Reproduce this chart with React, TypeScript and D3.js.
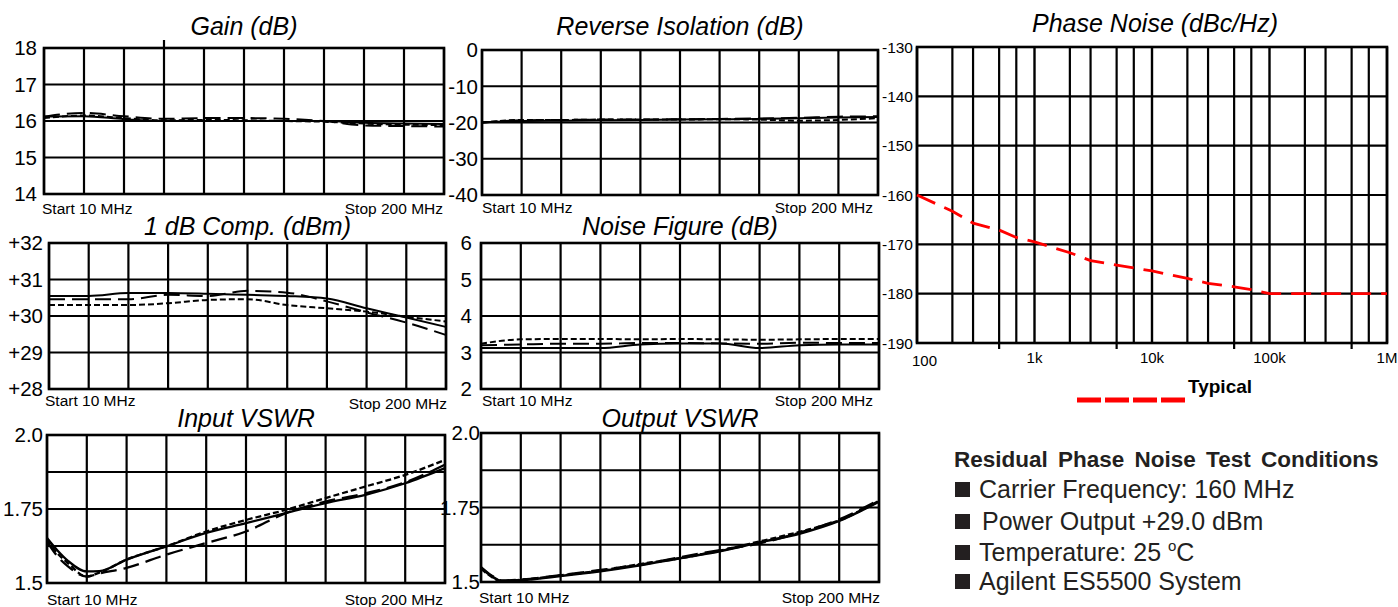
import React from 'react';
import * as d3 from 'd3';

// sweep points (MHz), 10 divisions from start to stop
const sweepMHz = [10, 29, 48, 67, 86, 105, 124, 143, 162, 181, 200];
const vswrInMHz = [10, 15, 20, 29, 35, 48, 67, 86, 105, 124, 143, 162, 181, 200];
const vswrOutMHz = [10, 15, 20, 29, 48, 67, 86, 105, 124, 143, 162, 181, 200];

const gainSolid = [16.12, 16.13, 16.05, 16.0, 16.0, 16.0, 16.0, 16.0, 15.95, 15.93, 15.92];
const gainLong = [16.12, 16.22, 16.13, 16.06, 16.08, 16.08, 16.06, 16.0, 15.88, 15.86, 15.85];
const gainShort = [16.08, 16.15, 16.08, 16.02, 16.03, 16.02, 16.0, 15.98, 15.93, 15.9, 15.89];

const isoSolid = [-20, -19.6, -19.5, -19.4, -19.3, -19.2, -19.1, -19.0, -18.8, -18.6, -18.5];
const isoLong = [-20, -19.4, -19.3, -19.2, -19.2, -19.1, -19.0, -18.9, -18.7, -18.4, -18.3];
const isoShort = [-20, -19.3, -19.3, -19.2, -19.2, -19.2, -19.1, -19.2, -19.5, -19.3, -18.8];

const compSolid = [30.55, 30.55, 30.63, 30.63, 30.61, 30.58, 30.55, 30.48, 30.21, 29.96, 29.7];
const compLong = [30.46, 30.46, 30.46, 30.58, 30.55, 30.69, 30.64, 30.4, 30.1, 29.82, 29.48];
const compShort = [30.3, 30.3, 30.3, 30.35, 30.44, 30.46, 30.3, 30.21, 30.12, 29.98, 29.85];

const nfSolid = [3.12, 3.12, 3.12, 3.12, 3.22, 3.25, 3.25, 3.12, 3.2, 3.22, 3.22];
const nfLong = [3.2, 3.22, 3.24, 3.24, 3.26, 3.26, 3.25, 3.24, 3.27, 3.26, 3.26];
const nfShort = [3.24, 3.36, 3.37, 3.37, 3.36, 3.37, 3.36, 3.35, 3.36, 3.37, 3.37];

const inVswrSolid = [1.652, 1.61, 1.575, 1.539, 1.54, 1.579, 1.624, 1.669, 1.702, 1.736, 1.77, 1.798, 1.837, 1.888];
const inVswrLong = [1.64, 1.59, 1.556, 1.522, 1.532, 1.551, 1.596, 1.635, 1.674, 1.736, 1.775, 1.803, 1.84, 1.9];
const inVswrShort = [1.646, 1.6, 1.567, 1.522, 1.535, 1.579, 1.624, 1.674, 1.713, 1.747, 1.787, 1.826, 1.865, 1.916];

const outVswrSolid = [1.547, 1.52, 1.503, 1.506, 1.52, 1.536, 1.556, 1.58, 1.603, 1.633, 1.662, 1.705, 1.77];
const outVswrLong = [1.55, 1.522, 1.505, 1.508, 1.523, 1.54, 1.558, 1.583, 1.607, 1.63, 1.665, 1.71, 1.775];
const outVswrShort = [1.545, 1.518, 1.502, 1.507, 1.522, 1.538, 1.56, 1.58, 1.605, 1.636, 1.668, 1.707, 1.772];

// phase noise, offset frequency (Hz) vs dBc/Hz
const pnOffsetHz = [100, 200, 300, 500, 700, 1e3, 2e3, 3e3, 5e3, 7e3, 1e4, 2e4, 3e4, 5e4, 7e4, 1e5, 1e6];
const pnTypical = [-160, -163.3, -165.7, -167.1, -168.6, -169.5, -171.7, -173.3, -174.2, -174.8, -175.4, -176.9, -177.9, -178.6, -179.2, -180, -180];
const pnDecades = [100, 1e3, 1e4, 1e5, 1e6];
const pnDecadeLabels = ['100', '1k', '10k', '100k', '1M'];
const pnMinorSteps = [2, 3, 5, 7];
const pnYTicks = [-130, -140, -150, -160, -170, -180, -190];

const testConditions = [
  'Carrier Frequency: 160 MHz',
  'Power Output +29.0 dBm',
  'Temperature: 25 ',
  'Agilent ES5500 System',
];

const FONT = '"Liberation Sans", Arial, Helvetica, sans-serif';
const DASH: Record<string, string> = { solid: 'none', long: '16,7', short: '6,3' };

type Box = { x0: number; x1: number; y0: number; y1: number };

interface PanelProps {
  box: Box;
  title: string;
  titleY: number;
  yDomain: [number, number];
  yGrid: number[];
  yLabels: [number, string][];
  labelGap: number;
  freq: number[];
  traces: { values: number[]; style: string }[];
  startY: number;
  stopY?: number;
  startDx?: number;
  stopDx?: number;
  strayIndex?: number;
  lineWidth?: number;
}

const SweepPanel: React.FC<PanelProps> = ({
  box, title, titleY, yDomain, yGrid, yLabels, labelGap, freq, traces,
  startY, stopY, startDx = 0, stopDx = 0, strayIndex, lineWidth = 2,
}) => {
  const x = d3.scaleLinear().domain([10, 200]).range([box.x0, box.x1]);
  const y = d3.scaleLinear().domain(yDomain).range([box.y1, box.y0]);
  const line = d3
    .line<number>()
    .x((_d, i) => x(freq[i]))
    .y(d => y(d))
    .curve(d3.curveMonotoneX);

  return (
    <g>
      <text x={(box.x0 + box.x1) / 2} y={titleY} textAnchor="middle" fontStyle="italic" fontSize={25}>
        {title}
      </text>
      {sweepMHz.map((f, i) => (
        <line
          key={'v' + i}
          x1={x(f)}
          x2={x(f)}
          y1={i === strayIndex ? box.y0 - 8 : box.y0}
          y2={box.y1}
          stroke="#000"
          strokeWidth={2.2}
        />
      ))}
      {yGrid.map((v, i) => (
        <line key={'h' + i} x1={box.x0} x2={box.x1} y1={y(v)} y2={y(v)} stroke="#000" strokeWidth={2.2} />
      ))}
      {traces.map((t, i) => (
        <path
          key={'t' + i}
          d={line(t.values) || ''}
          fill="none"
          stroke="#000"
          strokeWidth={lineWidth}
          strokeDasharray={DASH[t.style]}
        />
      ))}
      <rect x={box.x0} y={box.y0} width={box.x1 - box.x0} height={box.y1 - box.y0} fill="none" stroke="#000" strokeWidth={2.6} />
      {yLabels.map(([v, s]) => (
        <text key={s} x={box.x0 - labelGap} y={y(v)} dy="0.36em" textAnchor="end" fontSize={20.5}>
          {s}
        </text>
      ))}
      <text x={box.x0 + startDx} y={startY} fontSize={15.5}>Start 10 MHz</text>
      <text x={box.x1 + stopDx} y={stopY ?? startY} textAnchor="end" fontSize={15.5}>Stop 200 MHz</text>
    </g>
  );
};

const PhaseNoise: React.FC = () => {
  const box = { x0: 917, x1: 1387, y0: 47, y1: 343 };
  const x = d3.scaleLog().domain([100, 1e6]).range([box.x0, box.x1]);
  const y = d3.scaleLinear().domain([-190, -130]).range([box.y1, box.y0]);
  const minors = pnDecades.slice(0, -1).flatMap(d => pnMinorSteps.map(m => ({ f: d * m, m })));
  const line = d3
    .line<number>()
    .x((_d, i) => x(pnOffsetHz[i]))
    .y(d => y(d));

  return (
    <g>
      <text x={1155} y={32} textAnchor="middle" fontStyle="italic" fontSize={25}>
        Phase Noise (dBc/Hz)
      </text>
      {pnDecades.map(f => (
        <line key={'d' + f} x1={x(f)} x2={x(f)} y1={box.y0} y2={box.y1} stroke="#000" strokeWidth={2.4} />
      ))}
      {minors.map(({ f, m }) => (
        <line key={'m' + f} x1={x(f)} x2={x(f)} y1={box.y0} y2={box.y1 + (m === 5 ? 6 : 0)} stroke="#000" strokeWidth={2.2} />
      ))}
      {pnYTicks.map(v => (
        <line key={'h' + v} x1={box.x0} x2={box.x1} y1={y(v)} y2={y(v)} stroke="#000" strokeWidth={2.2} />
      ))}
      <rect x={box.x0} y={box.y0} width={box.x1 - box.x0} height={box.y1 - box.y0} fill="none" stroke="#000" strokeWidth={2.6} />
      <path
        d={line(pnTypical) || ''}
        fill="none"
        stroke="#ff0000"
        strokeWidth={2.8}
        strokeDasharray="20,10"
      />
      {pnYTicks.map(v => (
        <text key={'yl' + v} x={box.x0 - 4} y={y(v)} dy="0.36em" textAnchor="end" fontSize={15.5}>
          {v}
        </text>
      ))}
      {pnDecades.map((f, i) => (
        <text
          key={'xl' + f}
          x={i === 0 ? box.x0 - 5 : x(f)}
          y={i === 0 ? 366 : 363}
          textAnchor={i === 0 ? 'start' : 'middle'}
          fontSize={15}
        >
          {pnDecadeLabels[i]}
        </text>
      ))}
      <line x1={1077} x2={1187} y1={400} y2={400} stroke="#ff0000" strokeWidth={5} strokeDasharray="24,4" />
      <text x={1188} y={393} fontWeight="bold" fontSize={19}>Typical</text>
    </g>
  );
};

const Conditions: React.FC = () => {
  const baselines = [498, 530, 561, 590];
  return (
    <g fill="#231f20">
      <text x={954} y={467} fontWeight="bold" fontSize={22.5} wordSpacing={4}>
        Residual Phase Noise Test Conditions
      </text>
      {testConditions.map((t, i) => (
        <g key={t}>
          <rect x={955} y={baselines[i] - 16} width={15} height={15} />
          <text x={i === 1 ? 982 : 979} y={baselines[i]} fontSize={25}>
            {t}
            {i === 2 && (
              <>
                <tspan fontSize={15} dy={-10}>o</tspan>
                <tspan dy={10}>C</tspan>
              </>
            )}
          </text>
        </g>
      ))}
    </g>
  );
};

export default function App() {
  return (
    <div style={{ position: 'absolute', left: 0, top: 0, width: 1398, height: 607, overflow: 'hidden', background: '#fff' }}>
      <svg width={1398} height={607} fontFamily={FONT}>
        <rect width={1398} height={607} fill="#fff" />
        <SweepPanel
          box={{ x0: 44, x1: 444, y0: 48, y1: 194 }}
          title="Gain (dB)"
          titleY={35}
          yDomain={[14, 18]}
          yGrid={[15, 16, 17]}
          yLabels={[[18, '18'], [17, '17'], [16, '16'], [15, '15'], [14, '14']]}
          labelGap={7}
          freq={sweepMHz}
          traces={[
            { values: gainSolid, style: 'solid' },
            { values: gainLong, style: 'long' },
            { values: gainShort, style: 'short' },
          ]}
          startY={214}
          startDx={-2}
          stopDx={-1}
          strayIndex={3}
        />
        <SweepPanel
          box={{ x0: 482, x1: 878, y0: 50, y1: 195 }}
          title="Reverse Isolation (dB)"
          titleY={35}
          yDomain={[-40, 0]}
          yGrid={[-30, -20, -10]}
          yLabels={[[0, '0'], [-10, '-10'], [-20, '-20'], [-30, '-30'], [-40, '-40']]}
          labelGap={4}
          freq={sweepMHz}
          traces={[
            { values: isoSolid, style: 'solid' },
            { values: isoLong, style: 'long' },
            { values: isoShort, style: 'short' },
          ]}
          startY={213}
          stopDx={-5}
        />
        <SweepPanel
          box={{ x0: 49, x1: 446, y0: 243, y1: 389 }}
          title="1 dB Comp. (dBm)"
          titleY={235}
          yDomain={[28, 32]}
          yGrid={[29, 30, 31]}
          yLabels={[[32, '+32'], [31, '+31'], [30, '+30'], [29, '+29'], [28, '+28']]}
          labelGap={6}
          freq={sweepMHz}
          traces={[
            { values: compSolid, style: 'solid' },
            { values: compLong, style: 'long' },
            { values: compShort, style: 'short' },
          ]}
          startY={406}
          stopY={409}
          startDx={-4}
          stopDx={1}
        />
        <SweepPanel
          box={{ x0: 481, x1: 879, y0: 243, y1: 389 }}
          title="Noise Figure (dB)"
          titleY={235}
          yDomain={[2, 6]}
          yGrid={[3, 4, 5]}
          yLabels={[[6, '6'], [5, '5'], [4, '4'], [3, '3'], [2, '2']]}
          labelGap={9}
          freq={sweepMHz}
          traces={[
            { values: nfSolid, style: 'solid' },
            { values: nfLong, style: 'long' },
            { values: nfShort, style: 'short' },
          ]}
          startY={406}
          startDx={1}
          stopDx={-6}
        />
        <SweepPanel
          box={{ x0: 47, x1: 445, y0: 435, y1: 583 }}
          title="Input VSWR"
          titleY={427}
          yDomain={[1.5, 2.0]}
          yGrid={[1.625, 1.75, 1.875]}
          yLabels={[[2.0, '2.0'], [1.75, '1.75'], [1.5, '1.5']]}
          labelGap={4}
          freq={vswrInMHz}
          traces={[
            { values: inVswrSolid, style: 'solid' },
            { values: inVswrLong, style: 'long' },
            { values: inVswrShort, style: 'short' },
          ]}
          startY={605}
          stopDx={-2}
          lineWidth={2.3}
        />
        <SweepPanel
          box={{ x0: 481, x1: 879, y0: 433, y1: 582 }}
          title="Output VSWR"
          titleY={427}
          yDomain={[1.5, 2.0]}
          yGrid={[1.625, 1.75, 1.875]}
          yLabels={[[2.0, '2.0'], [1.75, '1.75'], [1.5, '1.5']]}
          labelGap={1}
          freq={vswrOutMHz}
          traces={[
            { values: outVswrSolid, style: 'solid' },
            { values: outVswrLong, style: 'long' },
            { values: outVswrShort, style: 'short' },
          ]}
          startY={603}
          startDx={-2}
          stopDx={1}
          lineWidth={2.5}
        />
        <PhaseNoise />
        <Conditions />
      </svg>
    </div>
  );
}
